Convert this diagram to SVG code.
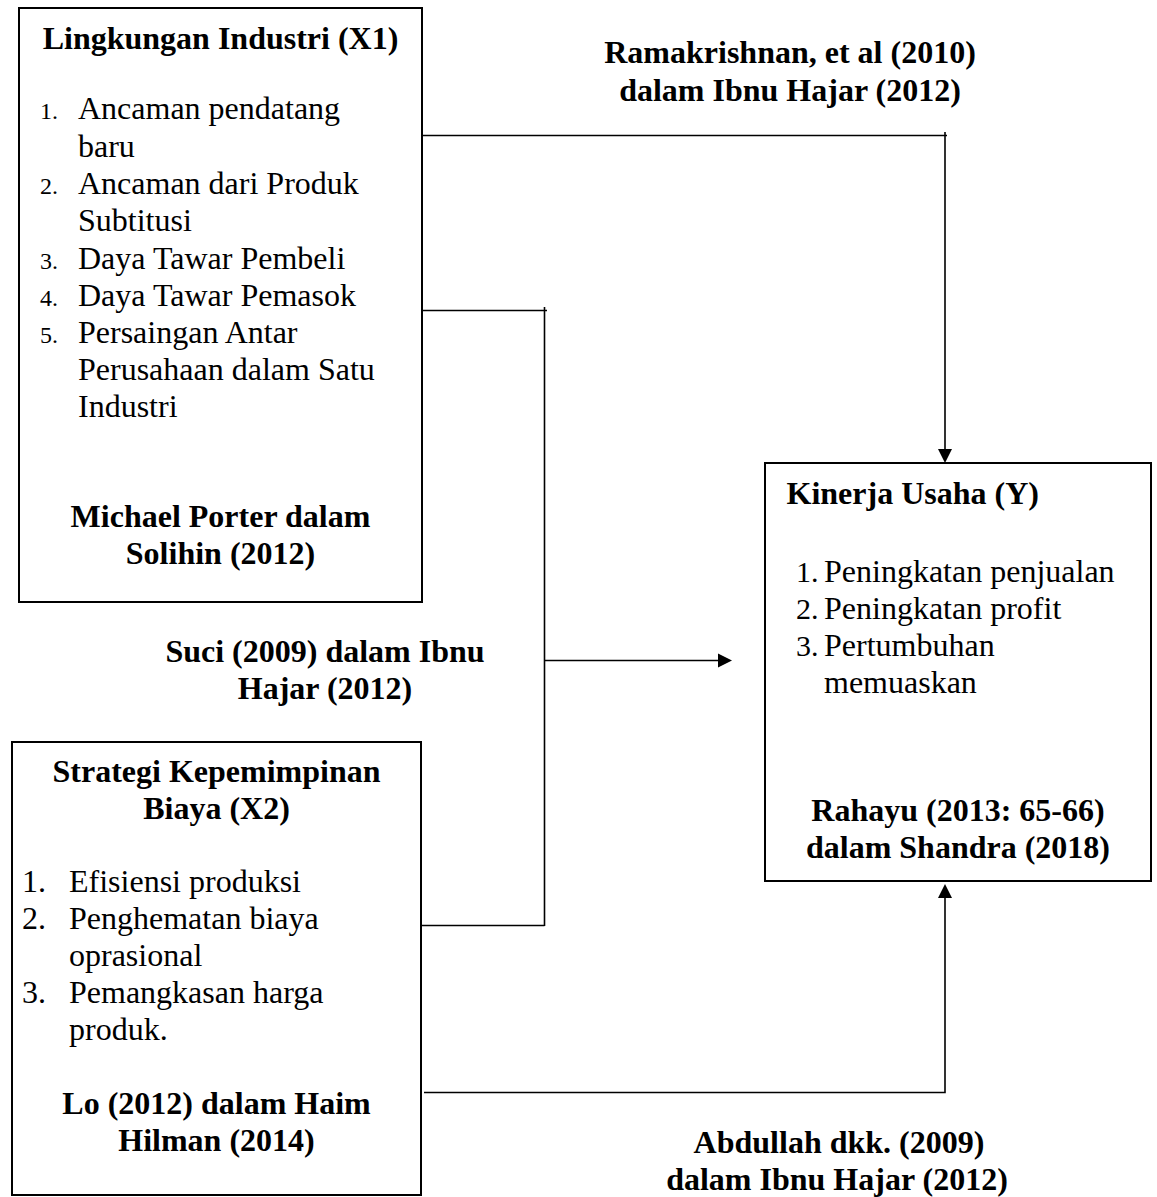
<svg xmlns="http://www.w3.org/2000/svg" width="1157" height="1197" viewBox="0 0 1157 1197">
<style>
.box{fill:#fff;stroke:#000;stroke-width:2}
.ln{fill:none;stroke:#000;stroke-width:1.6}
.ah{fill:#000}
text{font-family:"Liberation Serif","Times New Roman",serif;fill:#000;font-size:32px}
.b{font-weight:bold}
.c{text-anchor:middle}
.n24{font-size:24px}
.n30{font-size:30px}
</style>
<rect width="1157" height="1197" fill="#fff"/>
<g id="connectors">
<path class="ln" d="M422,135.5 H947 M945,132 V450"/>
<polygon class="ah" points="945,463 938,449 952,449"/>
<path class="ln" d="M422,310.5 H547 M544.5,307 V926 M421,925.5 H544.5"/>
<path class="ln" d="M544.5,660.5 H719"/>
<polygon class="ah" points="732,660.5 718,653.5 718,667.5"/>
<path class="ln" d="M424,1092.5 H945 V897"/>
<polygon class="ah" points="945,884 938,898 952,898"/>
</g>
<g id="label-top">
<text class="b c" x="790" y="63">Ramakrishnan, et al (2010)</text>
<text class="b c" x="790" y="101">dalam Ibnu Hajar (2012)</text>
</g>
<g id="label-mid">
<text class="b c" x="325" y="662">Suci (2009) dalam Ibnu</text>
<text class="b c" x="325" y="699">Hajar (2012)</text>
</g>
<g id="label-bottom">
<text class="b c" x="839" y="1153">Abdullah dkk. (2009)</text>
<text class="b c" x="837" y="1190">dalam Ibnu Hajar (2012)</text>
</g>
<g id="node-x1">
<rect class="box" x="19" y="8" width="403" height="594"/>
<text class="b c" x="220.5" y="49">Lingkungan Industri (X1)</text>
<text class="n24" x="40" y="119">1.</text><text x="78" y="119">Ancaman pendatang</text>
<text x="78" y="156.5">baru</text>
<text class="n24" x="40" y="194">2.</text><text x="78" y="194">Ancaman dari Produk</text>
<text x="78" y="231">Subtitusi</text>
<text class="n24" x="40" y="268.5">3.</text><text x="78" y="268.5">Daya Tawar Pembeli</text>
<text class="n24" x="40" y="305.5">4.</text><text x="78" y="305.5">Daya Tawar Pemasok</text>
<text class="n24" x="40" y="342.5">5.</text><text x="78" y="342.5">Persaingan Antar</text>
<text x="78" y="379.5">Perusahaan dalam Satu</text>
<text x="78" y="416.5">Industri</text>
<text class="b c" x="220.5" y="526.5">Michael Porter dalam</text>
<text class="b c" x="220.5" y="563.5">Solihin (2012)</text>
</g>
<g id="node-x2">
<rect class="box" x="12" y="742" width="409" height="453"/>
<text class="b c" x="216.5" y="782">Strategi Kepemimpinan</text>
<text class="b c" x="216.5" y="819">Biaya (X2)</text>
<text x="22" y="892">1.</text><text x="69" y="892">Efisiensi produksi</text>
<text x="22" y="929">2.</text><text x="69" y="929">Penghematan biaya</text>
<text x="69" y="966">oprasional</text>
<text x="22" y="1003">3.</text><text x="69" y="1003">Pemangkasan harga</text>
<text x="69" y="1039.5">produk.</text>
<text class="b c" x="216.5" y="1114">Lo (2012) dalam Haim</text>
<text class="b c" x="216.5" y="1151">Hilman (2014)</text>
</g>
<g id="node-y">
<rect class="box" x="765" y="463" width="386" height="418"/>
<text class="b" x="786.5" y="503.5">Kinerja Usaha (Y)</text>
<text class="n30" x="796" y="581.5">1.</text><text x="824" y="581.5">Peningkatan penjualan</text>
<text class="n30" x="796" y="619">2.</text><text x="824" y="619">Peningkatan profit</text>
<text class="n30" x="796" y="656">3.</text><text x="824" y="656">Pertumbuhan</text>
<text x="824" y="692.5">memuaskan</text>
<text class="b c" x="958" y="820.5">Rahayu (2013: 65-66)</text>
<text class="b c" x="958" y="857.5">dalam Shandra (2018)</text>
</g>
</svg>
